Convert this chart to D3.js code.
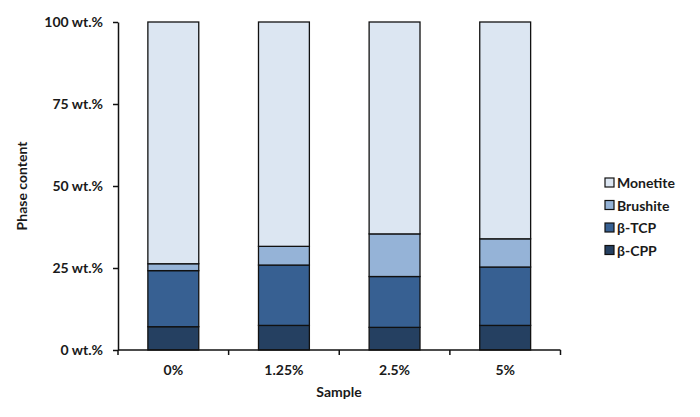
<!DOCTYPE html>
<html>
<head>
<meta charset="utf-8">
<script src="https://cdn.jsdelivr.net/npm/d3@7"></script>
<style>
  body { margin: 0; background: #fff; }
  text { font-family: Lato, "Open Sans", sans-serif; font-weight: bold; fill: #1a1a1a; }
</style>
</head>
<body>
<div id="chart"></div>
<script>
// data (wt.% per phase)
var samples = ["0%", "1.25%", "2.5%", "5%"];
var phases = ["β-CPP", "β-TCP", "Brushite", "Monetite"];
var cppValues = [7.1, 7.5, 6.9, 7.5];
var tcpValues = [17.1, 18.4, 15.5, 17.8];
var brushiteValues = [2.1, 5.7, 13.0, 8.6];
var monetiteValues = [73.7, 68.4, 64.6, 66.1];
var yTicks = [0, 25, 50, 75, 100];
var tickLabels = ["0 wt.%", "25 wt.%", "50 wt.%", "75 wt.%", "100 wt.%"];

var phaseColors = ["#254061", "#376092", "#95b3d7", "#dce6f2"];

var margin = { top: 22, right: 140, bottom: 67, left: 118 },
    width = 700 - margin.left - margin.right,
    height = 417 - margin.top - margin.bottom;

var svg = d3.select("#chart")
  .append("svg")
  .attr("width", 700)
  .attr("height", 417);

var g = svg.append("g")
  .attr("transform", "translate(" + margin.left + "," + margin.top + ")");

// build rows for the stack
var rows = samples.map(function(s, i) {
  return {
    sample: s,
    "β-CPP": cppValues[i],
    "β-TCP": tcpValues[i],
    "Brushite": brushiteValues[i],
    "Monetite": monetiteValues[i]
  };
});

var stacked = d3.stack().keys(phases)(rows);

var x = d3.scaleBand()
  .domain(samples)
  .range([0, width + 0.5])
  .paddingInner(0.54)
  .paddingOuter(0.27);

var y = d3.scaleLinear()
  .domain([0, 100])
  .range([height, 0]);

var color = d3.scaleOrdinal().domain(phases).range(phaseColors);

// bars
g.selectAll(".layer")
  .data(stacked)
  .enter()
  .append("g")
  .attr("class", "layer")
  .attr("fill", function(d) { return color(d.key); })
  .selectAll("rect")
  .data(function(d) { return d; })
  .enter()
  .append("rect")
  .attr("x", function(d) { return x(d.data.sample); })
  .attr("y", function(d) { return y(d[1]); })
  .attr("width", x.bandwidth())
  .attr("height", function(d) { return y(d[0]) - y(d[1]); })
  .attr("stroke", "#111")
  .attr("stroke-width", 1.3);

// y axis
var yAxis = g.append("g")
  .call(d3.axisLeft(y)
    .tickValues(yTicks)
    .tickSize(5)
    .tickSizeOuter(0)
    .tickFormat(function(d, i) { return tickLabels[i]; }));
yAxis.select(".domain").attr("stroke", "#111").attr("stroke-width", 1.5);
yAxis.selectAll(".tick line").attr("stroke", "#111").attr("stroke-width", 1.5);
yAxis.selectAll("text")
  .attr("x", -15)
  .style("font-size", "14px")
  .style("font-family", "Lato, 'Open Sans', sans-serif")
  .style("font-weight", "bold")
  .attr("fill", "#1a1a1a");

// x axis with ticks at category boundaries
var xAxisG = g.append("g").attr("transform", "translate(0," + height + ")");
xAxisG.append("line")
  .attr("x1", 0).attr("x2", x.range()[1])
  .attr("stroke", "#111").attr("stroke-width", 1.5);

var step = x.step();
var boundaries = d3.range(samples.length + 1).map(function(i) {
  return i === 0 ? 0 : x(samples[i - 1]) + x.bandwidth() + (step - x.bandwidth()) / 2;
});
xAxisG.selectAll(".btick")
  .data(boundaries)
  .enter()
  .append("line")
  .attr("class", "btick")
  .attr("x1", function(d) { return d; })
  .attr("x2", function(d) { return d; })
  .attr("y1", 0)
  .attr("y2", 5)
  .attr("stroke", "#111")
  .attr("stroke-width", 1.5);

xAxisG.selectAll(".xlabel")
  .data(samples)
  .enter()
  .append("text")
  .attr("class", "xlabel")
  .attr("x", function(d) { return x(d) + x.bandwidth() / 2; })
  .attr("y", 25)
  .attr("text-anchor", "middle")
  .style("font-size", "14px")
  .text(function(d) { return d; });

// axis titles
svg.append("text")
  .attr("x", margin.left + width / 2)
  .attr("y", 397)
  .attr("text-anchor", "middle")
  .style("font-size", "14px")
  .text("Sample");

svg.append("text")
  .attr("transform", "translate(27," + (margin.top + height / 2) + ") rotate(-90)")
  .attr("text-anchor", "middle")
  .style("font-size", "14px")
  .text("Phase content");

// legend (top to bottom: Monetite first)
var legendItems = phases.slice().reverse();
var legend = svg.append("g").attr("transform", "translate(605,178)");
var li = legend.selectAll(".li")
  .data(legendItems)
  .enter()
  .append("g")
  .attr("class", "li")
  .attr("transform", function(d, i) { return "translate(0," + (i * 22.5) + ")"; });
li.append("rect")
  .attr("width", 9)
  .attr("height", 9)
  .attr("fill", function(d) { return color(d); })
  .attr("stroke", "#111")
  .attr("stroke-width", 1.2);
li.append("text")
  .attr("x", 12)
  .attr("y", 10)
  .style("font-size", "14px")
  .text(function(d) { return d; });
</script>
</body>
</html>
